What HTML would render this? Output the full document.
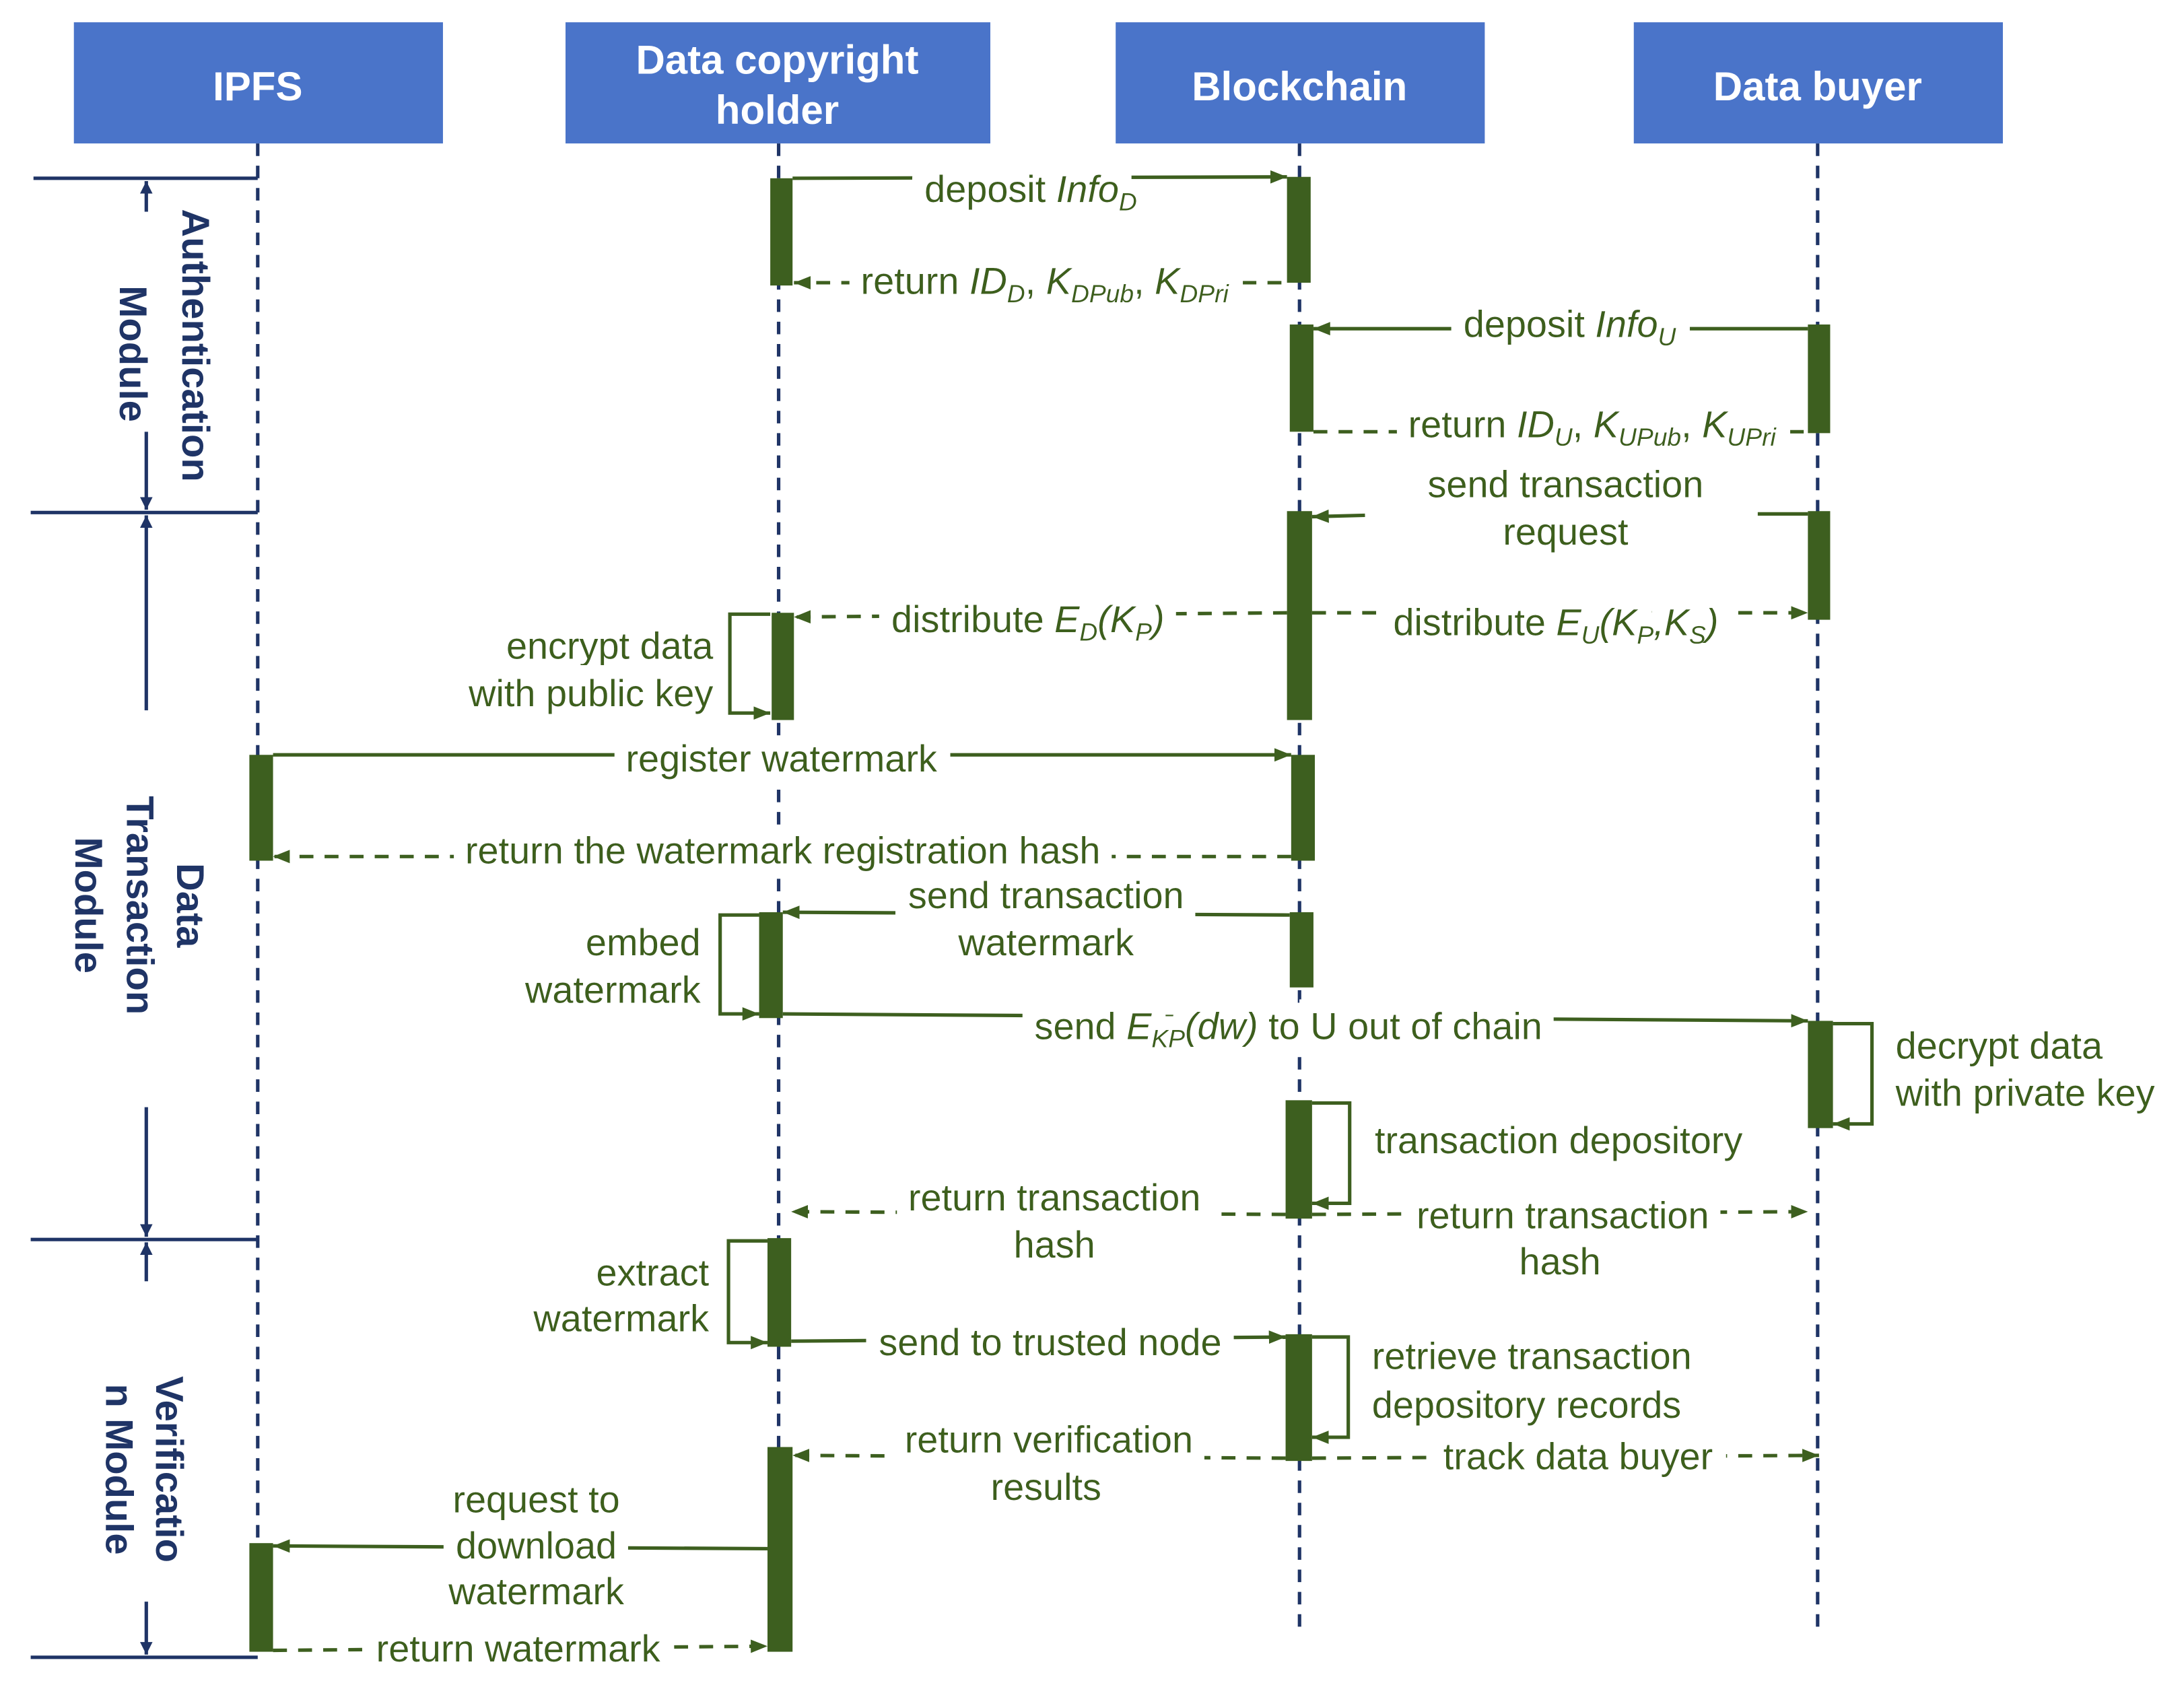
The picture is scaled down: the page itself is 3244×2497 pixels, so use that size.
<!DOCTYPE html>
<html><head><meta charset="utf-8"><style>
html,body{margin:0;padding:0;background:#fff}
svg{display:block}
.t{font-family:"Liberation Sans",Arial,sans-serif;font-size:27px;fill:#3d5f1f;filter:url(#halo)}
.h{font-family:"Liberation Sans",Arial,sans-serif;font-size:29px;font-weight:bold;fill:#fff}
.m{font-family:"Liberation Sans",Arial,sans-serif;font-size:28px;font-weight:bold;fill:#1f3466}
.s{font-size:18px}
</style></head><body>
<svg width="3244" height="2497" viewBox="0 0 1568 1207" xmlns="http://www.w3.org/2000/svg">
<defs>
<filter id="halo" x="-10%" y="-40%" width="120%" height="180%">
<feMorphology in="SourceAlpha" operator="dilate" radius="10" result="d"/>
<feFlood flood-color="#fff"/>
<feComposite in2="d" operator="in" result="w"/>
<feMerge><feMergeNode in="w"/><feMergeNode in="SourceGraphic"/></feMerge>
</filter>
<marker id="n" viewBox="0 0 10 10" refX="10" refY="5" markerWidth="9" markerHeight="9" orient="auto" markerUnits="userSpaceOnUse"><path d="M0,0L10,5L0,10z" fill="#1f3466"/></marker>
<marker id="m2" viewBox="0 0 10 10" refX="10" refY="5" markerWidth="12" markerHeight="12" orient="auto" markerUnits="userSpaceOnUse"><path d="M0,1L10,5L0,9z" fill="#3d5f1f"/></marker>
</defs>
<style>
.ll{stroke:#1f3466;stroke-width:2.5;stroke-dasharray:9 7;fill:none}
.so{stroke:#3d5f1f;stroke-width:2.5;fill:none;marker-end:url(#m2)}
.sn{stroke:#3d5f1f;stroke-width:2.5;fill:none}
.da{stroke:#3d5f1f;stroke-width:2.5;fill:none;stroke-dasharray:10 8}
.b{fill:#3d5f1f}
.nv{stroke:#1f3466;stroke-width:2.5;fill:none}
</style>

<rect x="53" y="16" width="265" height="87" fill="#4a74c9"/>
<rect x="406" y="16" width="305" height="87" fill="#4a74c9"/>
<rect x="801" y="16" width="265" height="87" fill="#4a74c9"/>
<rect x="1173" y="16" width="265" height="87" fill="#4a74c9"/>
<text class="h" x="185" y="72" text-anchor="middle">IPFS</text>
<text class="h" x="558" y="53" text-anchor="middle">Data copyright</text>
<text class="h" x="558" y="89" text-anchor="middle">holder</text>
<text class="h" x="933" y="72" text-anchor="middle">Blockchain</text>
<text class="h" x="1305" y="72" text-anchor="middle">Data buyer</text>

<line class="ll" x1="185" y1="103" x2="185" y2="1190"/>
<line class="ll" x1="559" y1="103" x2="559" y2="1190"/>
<line class="ll" x1="933" y1="103" x2="933" y2="1168"/>
<line class="ll" x1="1305" y1="103" x2="1305" y2="1168"/>

<g class="nv">
<line x1="24" y1="128" x2="185" y2="128"/>
<line x1="22" y1="368" x2="185" y2="368"/>
<line x1="22" y1="890" x2="185" y2="890"/>
<line x1="22" y1="1190" x2="185" y2="1190"/>
<line x1="105" y1="152" x2="105" y2="130" marker-end="url(#n)"/>
<line x1="105" y1="310" x2="105" y2="366" marker-end="url(#n)"/>
<line x1="105" y1="510" x2="105" y2="370" marker-end="url(#n)"/>
<line x1="105" y1="795" x2="105" y2="888" marker-end="url(#n)"/>
<line x1="105" y1="920" x2="105" y2="892" marker-end="url(#n)"/>
<line x1="105" y1="1150" x2="105" y2="1188" marker-end="url(#n)"/>
</g>
<g transform="translate(140,248) rotate(90)"><text class="m" x="0" y="9" text-anchor="middle">Authentication</text></g>
<g transform="translate(95,254) rotate(90)"><text class="m" x="0" y="9" text-anchor="middle">Module</text></g>
<g transform="translate(136,650) rotate(90)"><text class="m" x="0" y="9" text-anchor="middle">Data</text></g>
<g transform="translate(100,650) rotate(90)"><text class="m" x="0" y="9" text-anchor="middle">Transaction</text></g>
<g transform="translate(63,650) rotate(90)"><text class="m" x="0" y="9" text-anchor="middle">Module</text></g>
<g transform="translate(121,1055) rotate(90)"><text class="m" x="0" y="9" text-anchor="middle">Verificatio</text></g>
<g transform="translate(85,1055) rotate(90)"><text class="m" x="0" y="9" text-anchor="middle">n Module</text></g>

<rect class="b" x="553" y="128" width="16" height="77"/>
<rect class="b" x="924" y="127" width="17" height="76"/>
<rect class="b" x="926" y="233" width="17" height="77"/>
<rect class="b" x="1298" y="233" width="16" height="78"/>
<rect class="b" x="924" y="367" width="18" height="150"/>
<rect class="b" x="1298" y="367" width="16" height="78"/>
<rect class="b" x="554" y="440" width="16" height="77"/>
<rect class="b" x="179" y="542" width="17" height="76"/>
<rect class="b" x="927" y="542" width="17" height="76"/>
<rect class="b" x="545" y="655" width="17" height="76"/>
<rect class="b" x="926" y="655" width="17" height="54"/>
<rect class="b" x="1298" y="733" width="18" height="77"/>
<rect class="b" x="923" y="790" width="19" height="85"/>
<rect class="b" x="551" y="889" width="17" height="78"/>
<rect class="b" x="923" y="958" width="19" height="91"/>
<rect class="b" x="551" y="1039" width="18" height="147"/>
<rect class="b" x="179" y="1108" width="17" height="78"/>

<path class="so" d="M569,128 L924,127"/>
<path class="da" d="M920,203 L570,203" marker-end="url(#m2)"/>
<path class="so" d="M1298,236 L943,236"/>
<path class="da" d="M943,310 L1298,310"/>
<path class="sn" d="M1298,369 L1262,369"/>
<path class="so" d="M980,370 L942,371"/>
<path class="da" d="M924,440 L570,443" marker-end="url(#m2)"/>
<path class="da" d="M942,440 L1298,440" marker-end="url(#m2)"/>
<path class="so" d="M553,441 L524,441 L524,512 L553,512"/>
<path class="so" d="M196,542 L927,542"/>
<path class="da" d="M927,615 L196,615" marker-end="url(#m2)"/>
<path class="so" d="M926,657 L562,655"/>
<path class="so" d="M545,657 L517,657 L517,728 L545,728"/>
<path class="so" d="M562,728 L1298,733"/>
<path class="so" d="M1316,735 L1344,735 L1344,807 L1316,807"/>
<path class="so" d="M942,792 L969,792 L969,864 L942,864"/>
<path class="da" d="M923,872 L568,870" marker-end="url(#m2)"/>
<path class="da" d="M942,872 L1298,870" marker-end="url(#m2)"/>
<path class="so" d="M551,891 L523,891 L523,964 L551,964"/>
<path class="so" d="M568,963 L923,960"/>
<path class="so" d="M942,960 L968,960 L968,1032 L942,1032"/>
<path class="da" d="M923,1047 L569,1045" marker-end="url(#m2)"/>
<path class="da" d="M942,1047 L1306,1045" marker-end="url(#m2)"/>
<path class="so" d="M551,1112 L196,1110"/>
<path class="da" d="M196,1185 L551,1182" marker-end="url(#m2)"/>

<text class="t" x="740" y="145" text-anchor="middle">deposit <tspan font-style="italic">Info</tspan><tspan class="s" font-style="italic" dy="6">D</tspan></text>
<text class="t" x="750" y="211" text-anchor="middle">return <tspan font-style="italic">ID</tspan><tspan class="s" font-style="italic" dy="6">D</tspan><tspan dy="-6">, </tspan><tspan font-style="italic">K</tspan><tspan class="s" font-style="italic" dy="6">DPub</tspan><tspan dy="-6">, </tspan><tspan font-style="italic">K</tspan><tspan class="s" font-style="italic" dy="6">DPri</tspan></text>
<text class="t" x="1127" y="242" text-anchor="middle">deposit <tspan font-style="italic">Info</tspan><tspan class="s" font-style="italic" dy="6">U</tspan></text>
<text class="t" x="1143" y="314" text-anchor="middle">return <tspan font-style="italic">ID</tspan><tspan class="s" font-style="italic" dy="6">U</tspan><tspan dy="-6">, </tspan><tspan font-style="italic">K</tspan><tspan class="s" font-style="italic" dy="6">UPub</tspan><tspan dy="-6">, </tspan><tspan font-style="italic">K</tspan><tspan class="s" font-style="italic" dy="6">UPri</tspan></text>
<text class="t" x="1124" y="357" text-anchor="middle">send transaction</text>
<text class="t" x="1124" y="391" text-anchor="middle">request</text>
<text class="t" x="738" y="454" text-anchor="middle">distribute <tspan font-style="italic">E</tspan><tspan class="s" font-style="italic" dy="6">D</tspan><tspan dy="-6" font-style="italic">(K</tspan><tspan class="s" font-style="italic" dy="6">P</tspan><tspan dy="-6" font-style="italic">)</tspan></text>
<text class="t" x="1117" y="456" text-anchor="middle">distribute <tspan font-style="italic">E</tspan><tspan class="s" font-style="italic" dy="6">U</tspan><tspan dy="-6" font-style="italic">(K</tspan><tspan class="s" font-style="italic" dy="6">P</tspan><tspan dy="-6" font-style="italic">,K</tspan><tspan class="s" font-style="italic" dy="6">S</tspan><tspan dy="-6" font-style="italic">)</tspan></text>
<text class="t" x="512" y="473" text-anchor="end">encrypt data</text>
<text class="t" x="512" y="507" text-anchor="end">with public key</text>
<text class="t" x="561" y="554" text-anchor="middle">register watermark</text>
<text class="t" x="562" y="620" text-anchor="middle">return the watermark registration hash</text>
<text class="t" x="751" y="652" text-anchor="middle">send transaction</text>
<text class="t" x="751" y="686" text-anchor="middle">watermark</text>
<text class="t" x="503" y="686" text-anchor="end">embed</text>
<text class="t" x="503" y="720" text-anchor="end">watermark</text>
<text class="t" x="925" y="746" text-anchor="middle">send <tspan font-style="italic">E</tspan><tspan class="s" font-style="italic" dy="6">KP</tspan><tspan dy="-6" font-style="italic">(dw)</tspan> to U out of chain</text>
<text class="t" x="1361" y="760">decrypt data</text>
<text class="t" x="1361" y="794">with private key</text>
<text class="t" x="987" y="828">transaction depository</text>
<text class="t" x="757" y="869" text-anchor="middle">return transaction</text>
<text class="t" x="757" y="903" text-anchor="middle">hash</text>
<text class="t" x="1122" y="882" text-anchor="middle">return transaction</text>
<text class="t" x="1120" y="915" text-anchor="middle">hash</text>
<text class="t" x="509" y="923" text-anchor="end">extract</text>
<text class="t" x="509" y="956" text-anchor="end">watermark</text>
<text class="t" x="754" y="973" text-anchor="middle">send to trusted node</text>
<text class="t" x="985" y="983">retrieve transaction</text>
<text class="t" x="985" y="1018">depository records</text>
<text class="t" x="753" y="1043" text-anchor="middle">return verification</text>
<text class="t" x="751" y="1077" text-anchor="middle">results</text>
<text class="t" x="1133" y="1055" text-anchor="middle">track data buyer</text>
<text class="t" x="385" y="1086" text-anchor="middle">request to</text>
<text class="t" x="385" y="1119" text-anchor="middle">download</text>
<text class="t" x="385" y="1152" text-anchor="middle">watermark</text>
<text class="t" x="372" y="1193" text-anchor="middle">return watermark</text>
</svg>
</body></html>
